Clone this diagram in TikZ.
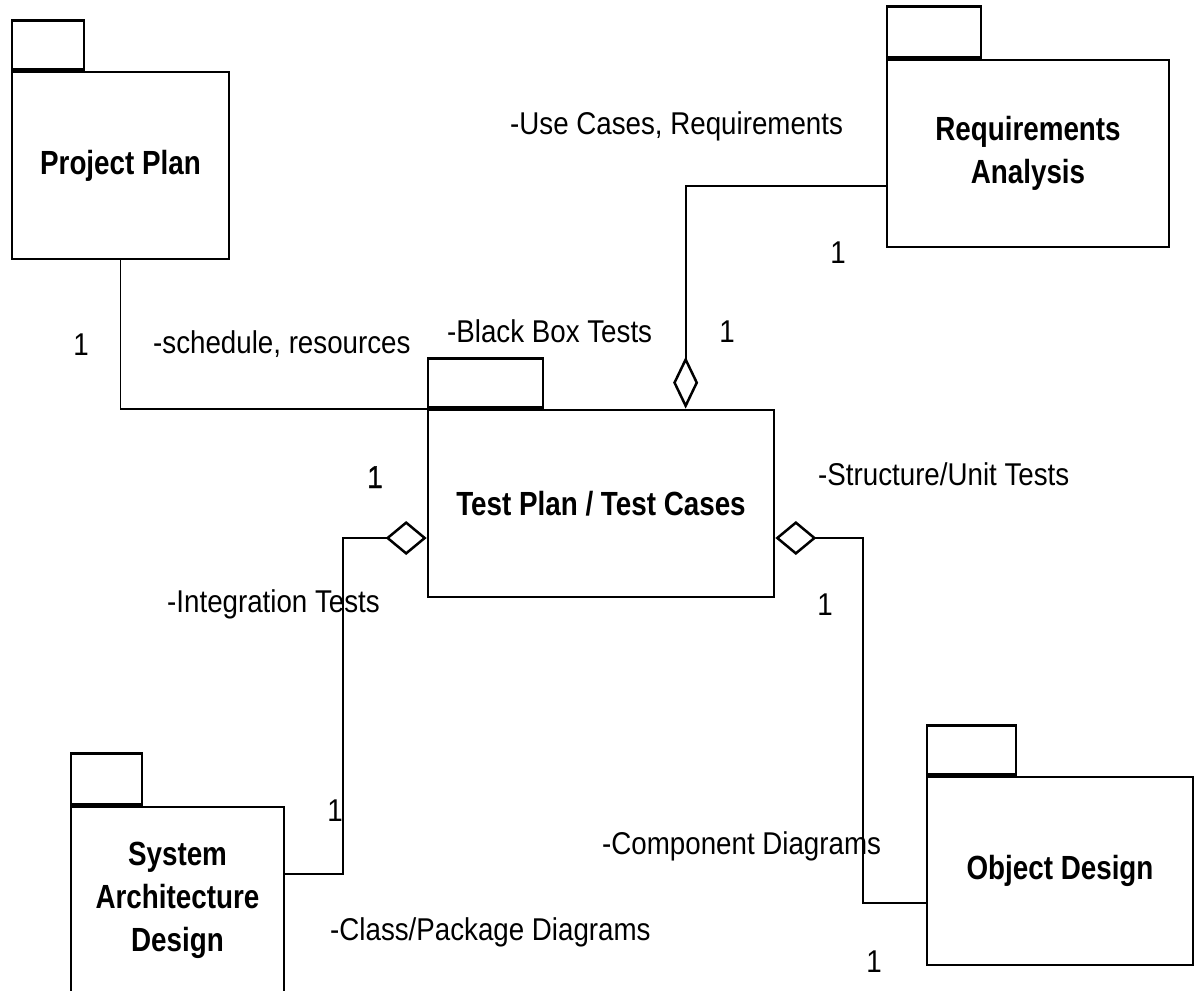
\documentclass[tikz,border=0pt]{standalone}
\usepackage{fontspec}
\setmainfont{Liberation Sans}[FakeStretch=0.88]
\newfontfamily\titlefont{Liberation Sans}[FakeStretch=0.83]
\newfontfamily\heavyone{Liberation Sans}[FakeStretch=0.88,FakeBold=1.2]
\usetikzlibrary{arrows.meta,calc}
\begin{document}
\begin{tikzpicture}[x=1pt,y=-1pt,
  pkg/.style={draw=black,line width=2.7pt,inner sep=0pt,align=center,
    font=\titlefont\fontsize{33.5}{43}\selectfont\bfseries},
  pkgtab/.style={draw=black,line width=2.7pt,inner sep=0pt,anchor=south west},
  conn/.style={draw=black,line width=1.9pt},
  lbl/.style={inner sep=0pt,anchor=base west,font=\fontsize{31.5}{43}\selectfont},
  mult/.style={inner sep=0pt,anchor=base,font=\fontsize{31.5}{43}\selectfont}
]
\useasboundingbox (0,0) rectangle (1195,991);

% packages
\node[pkg,minimum width=217pt,minimum height=187pt] (pp) at (120.5,165.5) {Project Plan};
\node[pkgtab,minimum width=72pt,minimum height=49pt] (pptab) at (pp.north west) {};

\node[pkg,minimum width=282pt,minimum height=187pt] (ra) at (1028,153.5) {Requirements\\Analysis};
\node[pkgtab,minimum width=94pt,minimum height=51pt] (ratab) at (ra.north west) {};

\node[pkg,minimum width=346pt,minimum height=187pt] (tp) at (601,503.5) {Test Plan / Test Cases};
\node[pkgtab,minimum width=115pt,minimum height=49pt] (tptab) at (tp.north west) {};

\node[pkg,minimum width=213pt,minimum height=187pt] (sad) at (177.5,900.5) {System\\Architecture\\Design};
\node[pkgtab,minimum width=71pt,minimum height=51pt] (sadtab) at (sad.north west) {};

\node[pkg,minimum width=266pt,minimum height=188pt] (od) at (1060,871) {Object Design};
\node[pkgtab,minimum width=89pt,minimum height=49pt] (odtab) at (od.north west) {};

% connectors
\draw[conn] (pp.south) |- (tp.north west);
\draw[conn,-{Diamond[open,length=52pt,width=25pt,line width=2.5pt]}]
  ($(ra.north west)+(0,127)$) -| ($(tp.north west)+(259,0)$);
\draw[conn,{Diamond[open,length=41pt,width=34pt,line width=2.5pt]}-]
  ($(tp.west)+(0,34.5)$) -- ++(-84,0) |- ($(sad.north east)+(0,68)$);
\draw[conn,{Diamond[open,length=41pt,width=34pt,line width=2.5pt]}-]
  ($(tp.east)+(0,34.5)$) -- ++(88,0) |- ($(od.north west)+(0,127)$);

% labels
\node[lbl] (l1) at (510,134) {-Use Cases, Requirements};
\node[mult] (m1) at (838,263) {1};
\node[mult] (m2) at (81,355) {1};
\node[lbl] (l2) at (153,353) {-schedule, resources};
\node[lbl] (l3) at (447,342) {-Black Box Tests};
\node[mult] (m3) at (727,342) {1};
\node[mult,font=\heavyone\fontsize{31.5}{43}\selectfont] (m4) at (375,488) {1};
\node[lbl] (l4) at (818,485) {-Structure/Unit Tests};
\node[lbl] (l5) at (167,612) {-Integration Tests};
\node[mult] (m5) at (825,615) {1};
\node[mult] (m6) at (335,821) {1};
\node[lbl] (l6) at (602,854) {-Component Diagrams};
\node[lbl] (l7) at (330,940) {-Class/Package Diagrams};
\node[mult] (m7) at (874,972) {1};
\end{tikzpicture}
\end{document}
